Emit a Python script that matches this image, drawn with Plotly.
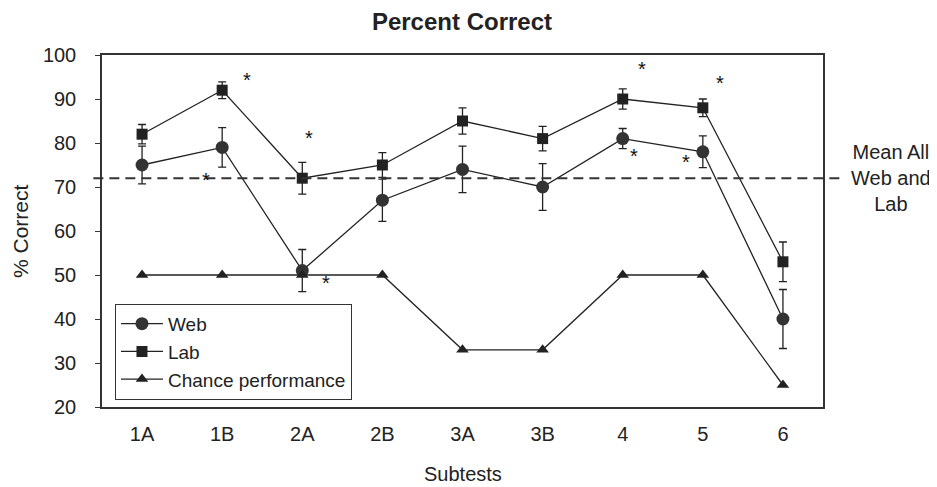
import plotly.graph_objects as go

subtests = ["1A", "1B", "2A", "2B", "3A", "3B", "4", "5", "6"]
web = [75, 79, 51, 67, 74, 70, 81, 78, 40]
web_err = [4.3, 4.5, 4.8, 4.8, 5.3, 5.3, 2.3, 3.6, 6.7]
lab = [82, 92, 72, 75, 85, 81, 90, 88, 53]
lab_err = [2.2, 1.9, 3.6, 2.8, 3.0, 2.8, 2.3, 2.0, 4.5]
chance = [50, 50, 50, 50, 33, 33, 50, 50, 25]
mean_all = 72
# significance asterisks: (category position, y value)
star_x = [0.80, 1.31, 2.08, 2.30, 6.14, 6.24, 6.79, 7.21]
star_y = [72, 94.7, 81.6, 48.7, 77.5, 97.2, 76.1, 94.2]

FONT = "Liberation Sans, Arial, sans-serif"
INK = "#222222"
xi = list(range(len(subtests)))

fig = go.Figure()
fig.add_trace(go.Scatter(
    x=xi, y=web, name="Web", mode="lines+markers",
    line=dict(color=INK, width=1.3),
    marker=dict(symbol="circle", size=13, color="#333333"),
    error_y=dict(type="data", array=web_err, color=INK, thickness=1.3, width=4),
))
fig.add_trace(go.Scatter(
    x=xi, y=lab, name="Lab", mode="lines+markers",
    line=dict(color=INK, width=1.3),
    marker=dict(symbol="square", size=11, color="#222222"),
    error_y=dict(type="data", array=lab_err, color=INK, thickness=1.3, width=4),
))
fig.add_trace(go.Scatter(
    x=xi, y=chance, name="Chance performance", mode="lines+markers",
    line=dict(color=INK, width=1.3),
    marker=dict(symbol="triangle-up", size=11, color="#222222"),
))

fig.add_shape(type="line", xref="paper", yref="y", x0=-0.012, x1=1.026,
              y0=mean_all, y1=mean_all,
              line=dict(color="#333333", width=2, dash="10px,6px"))

for sx, sy in zip(star_x, star_y):
    fig.add_annotation(x=sx, y=sy, xref="x", yref="y", text="*", showarrow=False,
                       font=dict(family=FONT, size=20, color="#111111"), yshift=-2)

fig.add_annotation(x=1.095, y=mean_all, xref="paper", yref="y", xanchor="center",
                   yanchor="middle",
                   text="Mean All<br>Web and<br>Lab", showarrow=False, align="center",
                   font=dict(family=FONT, size=20, color="#222222"))

# axis titles
fig.add_annotation(x=0.5, y=-0.190, xref="paper", yref="paper", xanchor="center",
                   yanchor="middle", text="Subtests", showarrow=False,
                   font=dict(family=FONT, size=20, color="#222222"))
fig.add_annotation(x=-0.1137, y=0.5, xref="paper", yref="paper", xanchor="center",
                   yanchor="middle", text="% Correct", showarrow=False, textangle=-90,
                   font=dict(family=FONT, size=21, color="#222222"))

fig.update_layout(
    width=937, height=487,
    margin=dict(l=94, r=122, t=47, b=88, autoexpand=False),
    paper_bgcolor="white", plot_bgcolor="white",
    font=dict(family=FONT, color="#222222"),
    title=dict(text="<b>Percent Correct</b>", x=0.4845, xanchor="center", y=0.9713,
               yanchor="middle", font=dict(family=FONT, size=24, color="#222222")),
    legend=dict(x=0.018, y=0.293, xanchor="left", yanchor="top",
                bordercolor="#333333", borderwidth=1, bgcolor="white",
                itemwidth=42,
                font=dict(family=FONT, size=19, color="#222222")),
    showlegend=True,
)
fig.update_xaxes(range=[-0.5, 8.5], tickvals=xi, ticktext=subtests, showgrid=False,
                 zeroline=False, showline=True, linecolor="#333333", linewidth=1.5,
                 mirror=True, ticks="", tickfont=dict(family=FONT, size=20),
                 ticklabelstandoff=8, automargin=False)
fig.update_yaxes(range=[20, 100], dtick=10, showgrid=False, zeroline=False,
                 showline=True, linecolor="#333333", linewidth=1.5, mirror=True,
                 ticks="outside", ticklen=5, tickcolor="#333333",
                 tickfont=dict(family=FONT, size=20), ticklabelstandoff=15,
                 automargin=False)

fig.write_html("out.html")
